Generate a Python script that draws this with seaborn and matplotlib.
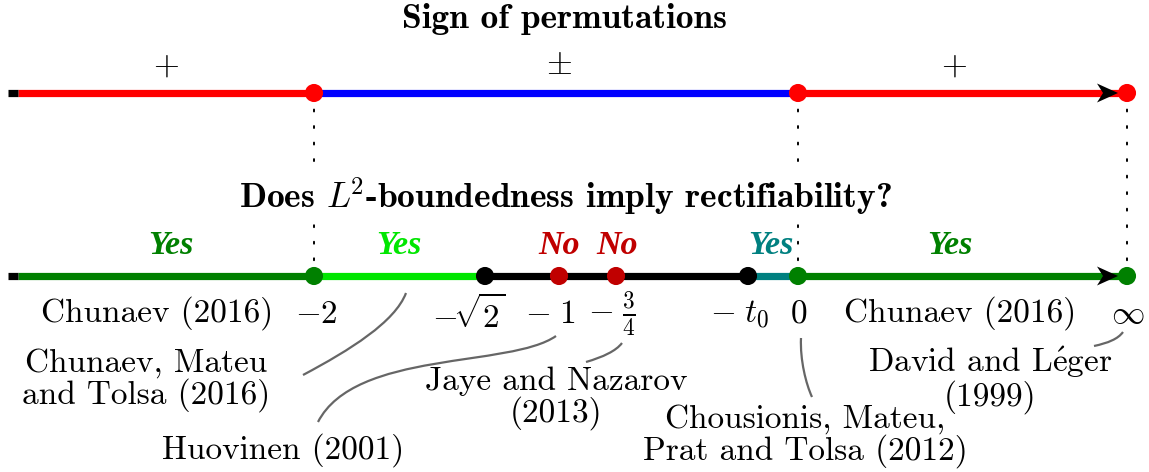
import numpy as np
import pandas as pd
import matplotlib
matplotlib.use('Agg')
import matplotlib.pyplot as plt
import seaborn as sns
from matplotlib.path import Path
from matplotlib.patches import PathPatch

sns.set_theme(style='white')
plt.rcParams['mathtext.fontset'] = 'cm'
plt.rcParams['font.family'] = ['cmr10', 'DejaVu Serif']
plt.rcParams['axes.unicode_minus'] = False
plt.rcParams['axes.formatter.use_mathtext'] = True
plt.rcParams['text.color'] = 'black'

# ---------------- data ----------------
top_title = "Sign of permutations"
bottom_title = r"Does $L^{\!\mathbf{2}}$-boundedness imply rectifiability?"

# positions of the breakpoints along the number line (diagram units)
top_nodes = [314, 798, 1127]
top_segments_start = [18, 314, 798]
top_segments_end = [314, 798, 1127]
top_segment_colors = ['#ff0000', '#0000ff', '#ff0000']
top_signs = [r'$+$', r'$\pm$', r'$+$']
top_sign_pos = [166, 559, 954]

bottom_nodes = [314, 485, 559, 616, 748, 798, 1127]
bottom_node_colors = ['#008000', '#000000', '#c00000', '#c00000', '#000000', '#008000', '#008000']
bottom_node_labels = [r'$-2$', r'$-\!\sqrt{2}$', r'$-\;1$', r'$-\;\frac{3}{4}$', r'$-\;t_0$', r'$0$', r'$\infty$']
bottom_label_pos = [316, 469, 550, 612, 739, 799, 1128]
bottom_segments_start = [18, 314, 485, 748, 798]
bottom_segments_end = [314, 485, 748, 798, 1127]
bottom_segment_colors = ['#008000', '#00e600', '#000000', '#008080', '#008000']
answers = ['Yes', 'Yes', 'No', 'No', 'Yes', 'Yes']
answer_colors = ['#008000', '#00e600', '#c00000', '#c00000', '#008080', '#008000']
answer_pos = [171, 399, 559, 617, 771, 950]

refs = ["Chunaev (2016)", "Chunaev, Mateu\nand Tolsa (2016)", "Huovinen (2001)",
        "Jaye and Nazarov\n(2013)", "Chousionis, Mateu,\nPrat and Tolsa (2012)",
        "Chunaev (2016)", r"David and L$\mathrm{\acute{e}}$ger" "\n(1999)"]
ref_x = [157, 146, 283, 556, 805, 960, 990]
ref_y = [313, 380, 450, 398, 436, 313, 379]

# connector curves (start, ctrl1, ctrl2, end)
connectors = [
    [(303, 375), (350, 350), (395, 322), (406, 293)],
    [(318, 422), (355, 350), (510, 368), (556, 336)],
    [(586, 362), (603, 357), (616, 351), (622, 343)],
    [(801, 338), (800, 360), (806, 384), (812, 397)],
    [(1094, 346), (1108, 343), (1118, 339), (1123, 332)],
]

Y_TOP = 93
Y_BOT = 276

# ---------------- figure ----------------
fig = plt.figure(figsize=(11.49, 4.72), dpi=100)
ax = fig.add_axes([0, 0, 1, 1])
ax.set_xlim(0, 1149)
ax.set_ylim(472, 0)
ax.axis('off')

LW = 5.2
# segments as a long table
rows = []
for i, (a, b, c) in enumerate(zip(top_segments_start, top_segments_end, top_segment_colors)):
    rows += [dict(x=a, y=Y_TOP, seg=f't{i}', col=c), dict(x=b, y=Y_TOP, seg=f't{i}', col=c)]
for i, (a, b, c) in enumerate(zip(bottom_segments_start, bottom_segments_end, bottom_segment_colors)):
    rows += [dict(x=a, y=Y_BOT, seg=f'b{i}', col=c), dict(x=b, y=Y_BOT, seg=f'b{i}', col=c)]
for j, yy in enumerate([Y_TOP, Y_BOT]):
    rows += [dict(x=8, y=yy, seg=f's{j}', col='#000000'), dict(x=18, y=yy, seg=f's{j}', col='#000000')]
seg_df = pd.DataFrame(rows)
pal = {s: c for s, c in zip(seg_df['seg'], seg_df['col'])}

# dotted verticals
for xv in top_nodes:
    ax.plot([xv, xv], [Y_TOP, Y_BOT], color='black', lw=1.4,
            linestyle=(0, (1, 7.5)), zorder=1, dash_capstyle='round')

sns.lineplot(data=seg_df, x='x', y='y', hue='seg', units='seg', estimator=None,
             palette=pal, sort=False, linewidth=LW, legend=False, ax=ax,
             solid_capstyle='butt', zorder=3)

# arrow heads (stealth style)
for yy in [Y_TOP, Y_BOT]:
    tip = top_nodes[2] - 9
    ax.fill([tip, tip - 21, tip - 15, tip - 21], [yy, yy - 9.5, yy, yy + 9.5],
            color='black', lw=0, zorder=4)

# dots
top_df = pd.DataFrame(dict(x=top_nodes, y=[Y_TOP] * 3, c=['#ff0000'] * 3))
bot_df = pd.DataFrame(dict(x=bottom_nodes, y=[Y_BOT] * len(bottom_nodes), c=bottom_node_colors))
dots = pd.concat([top_df, bot_df])
sns.scatterplot(data=dots, x='x', y='y', hue='c', palette={c: c for c in dots['c']},
                s=170, linewidth=0, legend=False, ax=ax, zorder=6)
ax.set_xlabel('')
ax.set_ylabel('')

# titles
ax.text(564, 19, top_title, family='cmb10', fontsize=25.5, ha='center', va='center', zorder=7)
ax.text(565, 196, bottom_title, family='cmb10', fontsize=25.5, ha='center', va='center', zorder=7,
        bbox=dict(facecolor='white', edgecolor='none', pad=3))

for s, xs in zip(top_signs, top_sign_pos):
    ax.text(xs, 66, s, fontsize=24, ha='center', va='center')

for a, c, xa in zip(answers, answer_colors, answer_pos):
    ax.text(xa, 246, a, color=c, family='Liberation Serif', style='italic', weight='bold',
            fontsize=24.5, ha='center', va='center')

for lab, xl in zip(bottom_node_labels, bottom_label_pos):
    ax.text(xl, 314, lab, fontsize=24, ha='center', va='center')

for r, xr, yr in zip(refs, ref_x, ref_y):
    ax.text(xr, yr, r, fontsize=24, ha='center', va='center', multialignment='center',
            linespacing=1.0)

for pts in connectors:
    path = Path(pts, [Path.MOVETO, Path.CURVE4, Path.CURVE4, Path.CURVE4])
    ax.add_patch(PathPatch(path, facecolor='none', edgecolor='#666666', lw=1.6, zorder=2))

fig.savefig('out.png', dpi=100)
